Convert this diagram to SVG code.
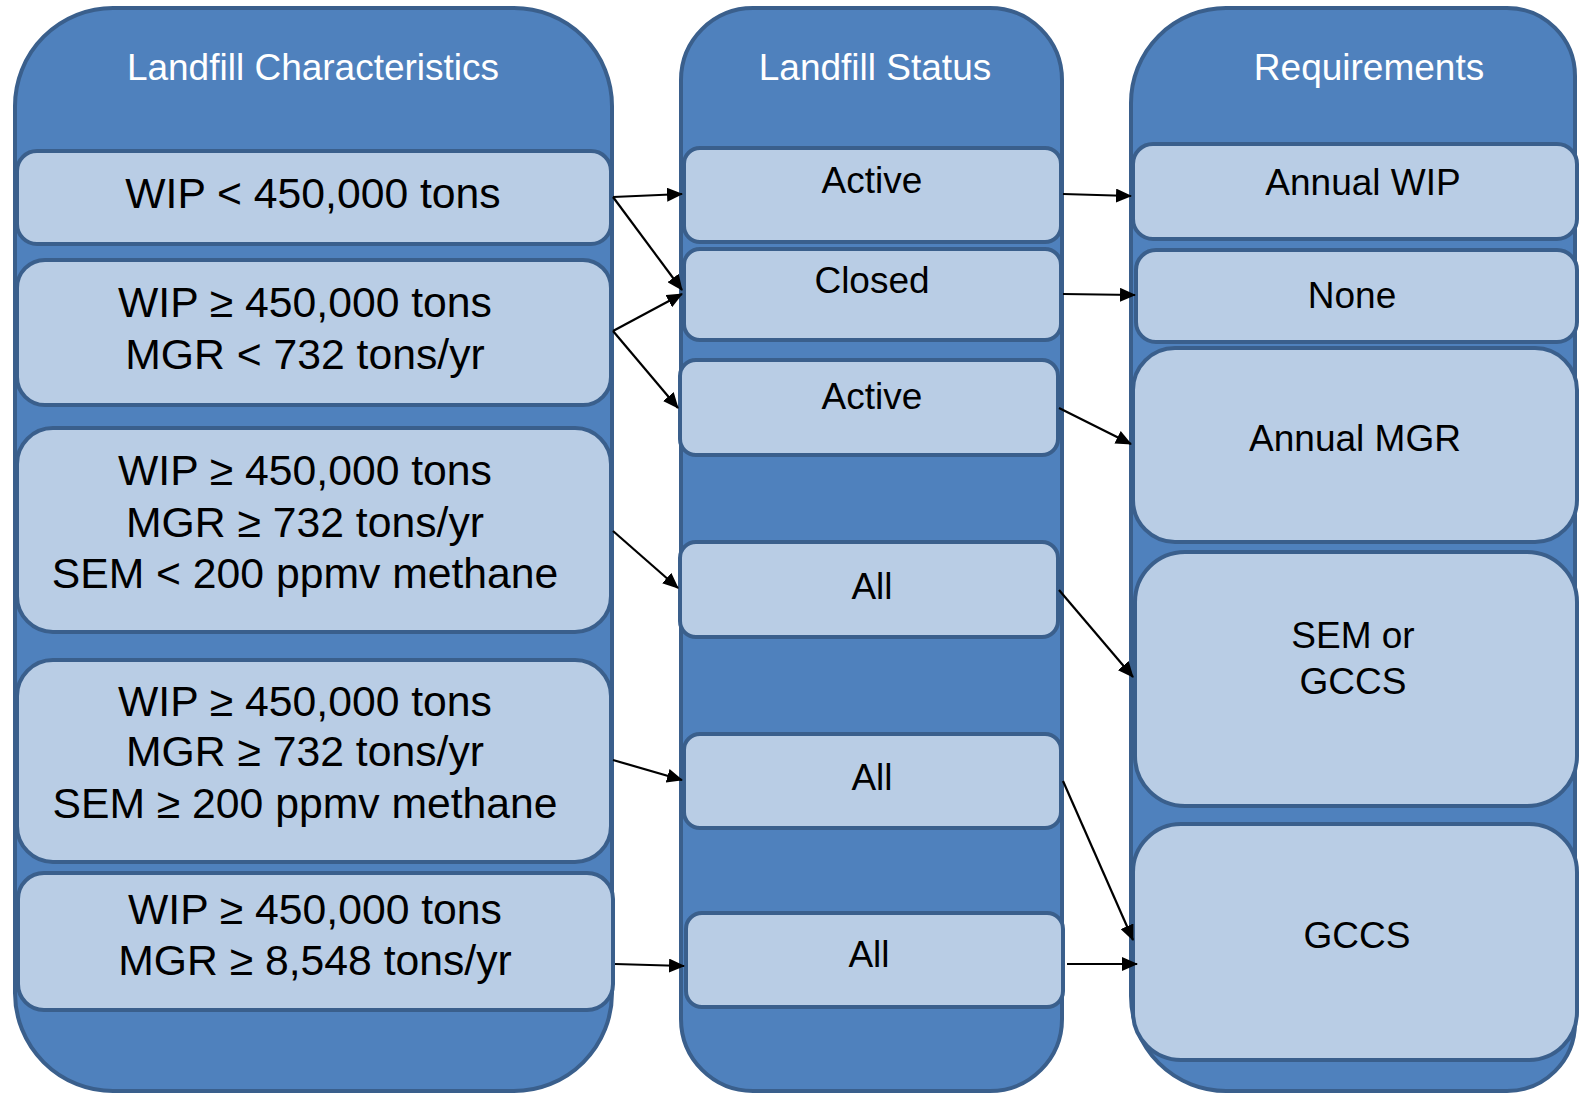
<svg xmlns="http://www.w3.org/2000/svg" width="1579" height="1093" viewBox="0 0 1579 1093">
<defs>
<style>
.col{fill:#4F81BD;stroke:#3A5F8C;stroke-width:4}
.box{fill:#B9CDE5;stroke:#3A5F8C;stroke-width:4}
.hdr{font-family:"Liberation Sans",Arial,sans-serif;font-size:37px;fill:#FFFFFF;text-anchor:middle}
.t42{font-family:"Liberation Sans",Arial,sans-serif;font-size:42.7px;fill:#000000;text-anchor:middle}
.t37{font-family:"Liberation Sans",Arial,sans-serif;font-size:37px;fill:#000000;text-anchor:middle}
.conn line{stroke:#000000;stroke-width:2.2;marker-end:url(#ah)}
</style>
<marker id="ah" markerUnits="userSpaceOnUse" markerWidth="16" markerHeight="14" refX="15" refY="7" orient="auto">
<path d="M0,0 L16,7 L0,14 z" fill="#000000"/>
</marker>
</defs>
<rect width="1579" height="1093" fill="#FFFFFF"/>

<g id="col-characteristics">
<rect class="col" x="15" y="8" width="597" height="1083" rx="98" ry="98"/>
<text class="hdr" x="313" y="80">Landfill Characteristics</text>
</g>
<g id="col-status">
<rect class="col" x="681" y="8" width="381" height="1083" rx="72" ry="72"/>
<text class="hdr" x="875" y="80">Landfill Status</text>
</g>
<g id="col-requirements">
<path class="col" d="M1226,8 H1507 A68,68 0 0 1 1575,76 V1023 A68,68 0 0 1 1507,1091 H1226 A95,95 0 0 1 1131,996 V103 A95,95 0 0 1 1226,8 Z"/>
<text class="hdr" x="1369" y="80">Requirements</text>
</g>

<g id="c1">
<rect class="box" x="17" y="151" width="594" height="93" rx="20"/>
<text class="t42" x="313" y="208">WIP &lt; 450,000 tons</text>
</g>
<g id="c2">
<rect class="box" x="17" y="260" width="594" height="145" rx="28"/>
<text class="t42" x="305" y="317">WIP ≥ 450,000 tons</text>
<text class="t42" x="305" y="369">MGR &lt; 732 tons/yr</text>
</g>
<g id="c3">
<rect class="box" x="17" y="428" width="594" height="204" rx="36"/>
<text class="t42" x="305" y="485">WIP ≥ 450,000 tons</text>
<text class="t42" x="305" y="537">MGR ≥ 732 tons/yr</text>
<text class="t42" x="305" y="588">SEM &lt; 200 ppmv methane</text>
</g>
<g id="c4">
<rect class="box" x="17" y="660" width="594" height="202" rx="36"/>
<text class="t42" x="305" y="716">WIP ≥ 450,000 tons</text>
<text class="t42" x="305" y="766">MGR ≥ 732 tons/yr</text>
<text class="t42" x="305" y="818">SEM ≥ 200 ppmv methane</text>
</g>
<g id="c5">
<rect class="box" x="18" y="873" width="595" height="137" rx="26"/>
<text class="t42" x="315" y="924">WIP ≥ 450,000 tons</text>
<text class="t42" x="315" y="975">MGR ≥ 8,548 tons/yr</text>
</g>

<g id="s1">
<rect class="box" x="684" y="148" width="377" height="94" rx="16"/>
<text class="t37" x="872" y="193">Active</text>
</g>
<g id="s2">
<rect class="box" x="684" y="249" width="377" height="91" rx="16"/>
<text class="t37" x="872" y="293">Closed</text>
</g>
<g id="s3">
<rect class="box" x="680" y="360" width="378" height="95" rx="16"/>
<text class="t37" x="872" y="409">Active</text>
</g>
<g id="s4">
<rect class="box" x="680" y="542" width="378" height="95" rx="16"/>
<text class="t37" x="872" y="599">All</text>
</g>
<g id="s5">
<rect class="box" x="684" y="734" width="377" height="94" rx="16"/>
<text class="t37" x="872" y="790">All</text>
</g>
<g id="s6">
<rect class="box" x="686" y="913" width="377" height="94" rx="16"/>
<text class="t37" x="869" y="967">All</text>
</g>

<g id="r1">
<rect class="box" x="1133" y="144" width="444" height="95" rx="20"/>
<text class="t37" x="1363" y="195">Annual WIP</text>
</g>
<g id="r2">
<rect class="box" x="1136" y="250" width="441" height="92" rx="20"/>
<text class="t37" x="1352" y="308">None</text>
</g>
<g id="r3">
<rect class="box" x="1133" y="348" width="444" height="194" rx="42"/>
<text class="t37" x="1355" y="451">Annual MGR</text>
</g>
<g id="r4">
<rect class="box" x="1135" y="552" width="442" height="254" rx="50"/>
<text class="t37" x="1353" y="648">SEM or</text>
<text class="t37" x="1353" y="694">GCCS</text>
</g>
<g id="r5">
<rect class="box" x="1133" y="824" width="444" height="236" rx="48"/>
<text class="t37" x="1357" y="948">GCCS</text>
</g>

<g id="connectors" class="conn">
<line x1="613" y1="197" x2="682" y2="194"/>
<line x1="613" y1="197" x2="682" y2="290"/>
<line x1="613" y1="331" x2="682" y2="294"/>
<line x1="613" y1="331" x2="678" y2="408"/>
<line x1="613" y1="531" x2="678" y2="588"/>
<line x1="613" y1="760" x2="682" y2="780"/>
<line x1="615" y1="964" x2="684" y2="966"/>
<line x1="1063" y1="194" x2="1131" y2="196"/>
<line x1="1063" y1="294" x2="1135" y2="295"/>
<line x1="1059" y1="408" x2="1131" y2="444"/>
<line x1="1059" y1="590" x2="1133" y2="677"/>
<line x1="1063" y1="781" x2="1133" y2="940"/>
<line x1="1067" y1="964" x2="1137" y2="964"/>
</g>
</svg>
